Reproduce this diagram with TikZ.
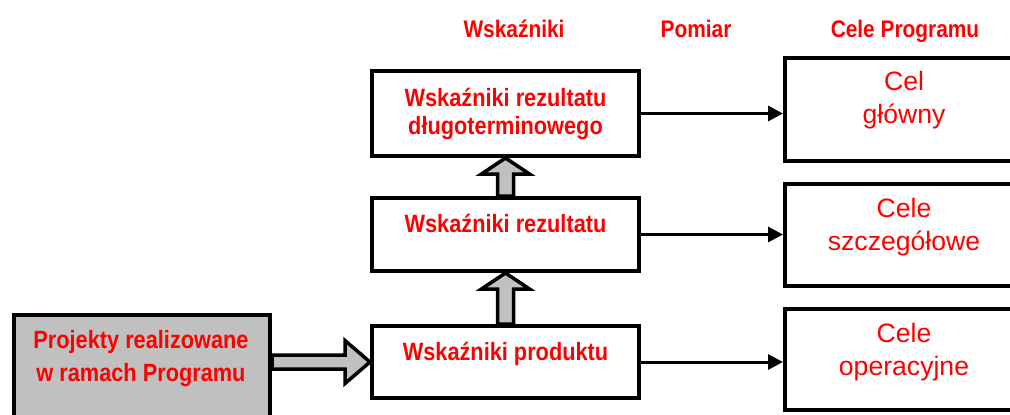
\documentclass[tikz,border=0pt]{standalone}
\usepackage{fontspec}
\setmainfont{Liberation Sans}
\newfontfamily\waski{Liberation Sans}[FakeStretch=0.87]
\usetikzlibrary{calc,arrows.meta}
\definecolor{czerw}{RGB}{255,0,0}
\definecolor{szary}{RGB}{192,192,192}

\begin{document}
\begin{tikzpicture}[x=0.5pt, y=-0.5pt,
	ramka/.style={draw=black, line width=2pt, fill=white, inner sep=0pt, minimum width=133.5pt},
	cel/.style={ramka, minimum width=127.5pt},
	napis/.style={text=czerw, inner sep=0pt, align=center, font=\waski\bfseries\fontsize{12.5}{14}\selectfont},
	opis/.style={text=czerw, inner sep=0pt, align=center, font=\fontsize{13.3}{16.5}\selectfont},
	strz/.style={draw=black, line width=1.5pt, -{Triangle[length=7.5pt, width=7.5pt]}},
	blok/.style={draw=black, line width=1.75pt, fill=szary, line join=miter}]
	\useasboundingbox (0,0) rectangle (1010,414);
	% naglowki
	\node[napis, anchor=base, font=\waski\bfseries\fontsize{12}{14}\selectfont] (hw) at (514,37) {Wskaźniki};
	\node[napis, anchor=base, font=\waski\bfseries\fontsize{12}{14}\selectfont] (hp) at (696,37) {Pomiar};
	\node[napis, anchor=base, font=\waski\bfseries\fontsize{12}{14}\selectfont] (hc) at (905,37) {Cele Programu};
	% wskazniki
	\node[ramka, minimum height=42.5pt] (dlugi)    at (505.5,113.5) {};
	\node[ramka, minimum height=36.5pt] (rezultat) at (505.5,234.5) {};
	\node[ramka, minimum height=36pt]   (produkt)  at (505.5,362) {};
	\node[ramka, fill=szary, minimum width=128pt, minimum height=57.5pt] (projekty) at (142,372.5) {};
	\node[napis, anchor=north] (tdlugi) at (505.5,87.5) {Wskaźniki rezultatu\\długoterminowego};
	\node[napis, anchor=base] (trezultat) at (505.5,232) {Wskaźniki rezultatu};
	\node[napis, anchor=base] (tprodukt)  at (505.5,360) {Wskaźniki produktu};
	\node[napis, anchor=north, font=\waski\bfseries\fontsize{12.5}{16.5}\selectfont] (tprojekty) at (141,329.7) {Projekty realizowane\\w ramach Programu};
	% cele
	\node[cel, minimum height=51.5pt] (cg) at (912.5,109.5) {};
	\node[cel, minimum height=51pt]   (cs) at (912.5,235) {};
	\node[cel, minimum height=50.5pt] (co) at (912.5,359.5) {};
	\node[opis, anchor=north] (tcg) at (904,70.6)  {Cel\\główny};
	\node[opis, anchor=north] (tcs) at (904,197.6) {Cele\\szczegółowe};
	\node[opis, anchor=north] (tco) at (904,322.6) {Cele\\operacyjne};
	% pomiar
	\draw[strz] (dlugi.east)    -- (dlugi.east -| cg.west);
	\draw[strz] (rezultat.east) -- (rezultat.east -| cs.west);
	\draw[strz] (produkt.east)  -- (produkt.east -| co.west);
	% grube strzalki
	\coordinate (pa) at (projekty.east |- produkt.west);
	\draw[blok] ($(pa)+(0,-7)$) -- ($(produkt.west)+(-25,-7)$) -- ($(produkt.west)+(-25,-21.5)$) -- (produkt.west)
		-- ($(produkt.west)+(-25,21.5)$) -- ($(produkt.west)+(-25,7)$) -- ($(pa)+(0,7)$) -- cycle;
	\draw[blok] ($(produkt.north)+(-8,0)$) -- ($(rezultat.south)+(-8,16)$) -- ($(rezultat.south)+(-24,16)$) -- (rezultat.south)
		-- ($(rezultat.south)+(24,16)$) -- ($(rezultat.south)+(8,16)$) -- ($(produkt.north)+(8,0)$) -- cycle;
	\draw[blok] ($(rezultat.north)+(-8,0)$) -- ($(dlugi.south)+(-8,16)$) -- ($(dlugi.south)+(-24,16)$) -- (dlugi.south)
		-- ($(dlugi.south)+(24,16)$) -- ($(dlugi.south)+(8,16)$) -- ($(rezultat.north)+(8,0)$) -- cycle;
\end{tikzpicture}
\end{document}
